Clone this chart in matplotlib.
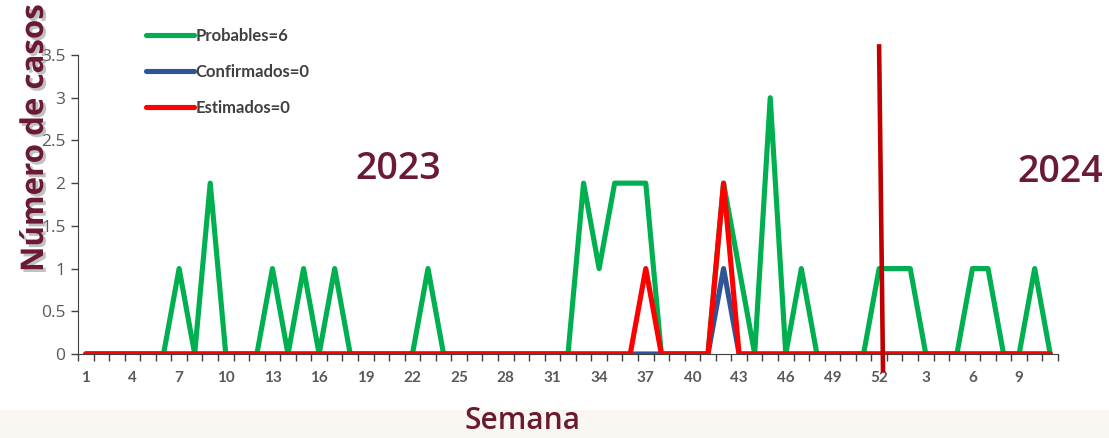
import numpy as np
import matplotlib
matplotlib.use("Agg")
import matplotlib.pyplot as plt
import matplotlib.patheffects as pe
from matplotlib.lines import Line2D

# weeks: 2023 wk 1..52 then 2024 wk 1..11
semanas = [str(w) for w in range(1, 53)] + [str(w) for w in range(1, 12)]
x = np.arange(1, len(semanas) + 1)

probables = [0, 0, 0, 0, 0, 0, 1, 0, 2, 0,
             0, 0, 1, 0, 1, 0, 1, 0, 0, 0,
             0, 0, 1, 0, 0, 0, 0, 0, 0, 0,
             0, 0, 2, 1, 2, 2, 2, 0, 0, 0,
             0, 2, 1, 0, 3, 0, 1, 0, 0, 0,
             0, 1, 1, 1, 0, 0, 0, 1, 1, 0,
             0, 1, 0]
confirmados = [0] * 41 + [1] + [0] * 21
estimados = [0] * 36 + [1] + [0] * 4 + [2] + [0] * 21

etiquetas = ["Probables=6", "Confirmados=0", "Estimados=0"]
colores = ["#00b050", "#2f5597", "#ff0000"]
corte_x = [52.0, 52.25]
corte_y = [3.6, -0.19]

maroon = "#6b1a33"
gris = "#595959"

fig = plt.figure(figsize=(11.09, 4.38), dpi=100)
fig.patch.set_facecolor("white")
# faint beige band at the bottom
fig.patches.append(plt.Rectangle((0, 0), 1, 28 / 438, transform=fig.transFigure,
                                 facecolor="#faf7f2", edgecolor="none", zorder=0))

ax = fig.add_axes([78 / 1109, 84 / 438, 980 / 1109, 299 / 438])
ax.set_facecolor("none")

for serie, color, lab, z in zip([probables, confirmados, estimados], colores, etiquetas, [3, 4, 5]):
    ax.plot(x, serie, color=color, lw=3.7, label=lab, zorder=z,
            solid_joinstyle="round", solid_capstyle="round")

ax.plot(corte_x, corte_y, color="#c00000", lw=3.3, clip_on=False, zorder=6)

ax.set_xlim(0.5, len(semanas) + 0.5)
ax.set_ylim(0, 3.5)
ax.set_yticks(np.arange(0, 3.51, 0.5))
ax.set_yticklabels(["0", "0.5", "1", "1.5", "2", "2.5", "3", "3.5"],
                   fontsize=12.5, color=gris, family="Open Sans")
ax.tick_params(axis="y", length=5, width=1, color="#404040", pad=4)

pos = x[::3]
ax.set_xticks(pos)
ax.set_xticklabels([semanas[i - 1] for i in pos], fontsize=11, color=gris,
                   fontweight="bold", family="Lato")
ax.tick_params(axis="x", length=0, pad=12)
ax.set_xticks(np.arange(0.5, len(semanas) + 1), minor=True)
ax.tick_params(axis="x", which="minor", length=5, width=1, color="#404040")

for s in ["top", "right"]:
    ax.spines[s].set_visible(False)
ax.spines["left"].set_color("#404040")
ax.spines["bottom"].set_color("#404040")

ax.text(21.1, 2.17, "2023", fontsize=27, color=maroon, fontweight="semibold",
        family="Open Sans", ha="center", va="center")
fig.text(1060 / 1109, 1 - 172 / 438, "2024", fontsize=27, color=maroon,
         fontweight="semibold", family="Open Sans", ha="center", va="center")

fig.text(35 / 1109, 1 - 138 / 438, "Número de casos", rotation=90, fontsize=22.5,
         color=maroon, fontweight="bold", family="Open Sans", ha="center", va="center",
         path_effects=[pe.withSimplePatchShadow(offset=(2, -2), shadow_rgbFace="#999999", alpha=0.6)])
fig.text(522 / 1109, 1 - 421 / 438, "Semana", fontsize=21.5, color=maroon,
         fontweight="semibold", family="Open Sans", ha="center", va="center")

handles = [Line2D([], [], color=c, lw=3.7, solid_capstyle="round") for c in colores]
fig.legend(handles, etiquetas, loc="upper left", bbox_to_anchor=(146 / 1109, 1 - 28 / 438),
           frameon=False, handlelength=2.9, handletextpad=0.05, labelspacing=1.2,
           prop={"family": "Lato", "weight": "bold", "size": 12}, labelcolor="#404040",
           borderaxespad=0, borderpad=0)

fig.savefig("out.png", dpi=100)
